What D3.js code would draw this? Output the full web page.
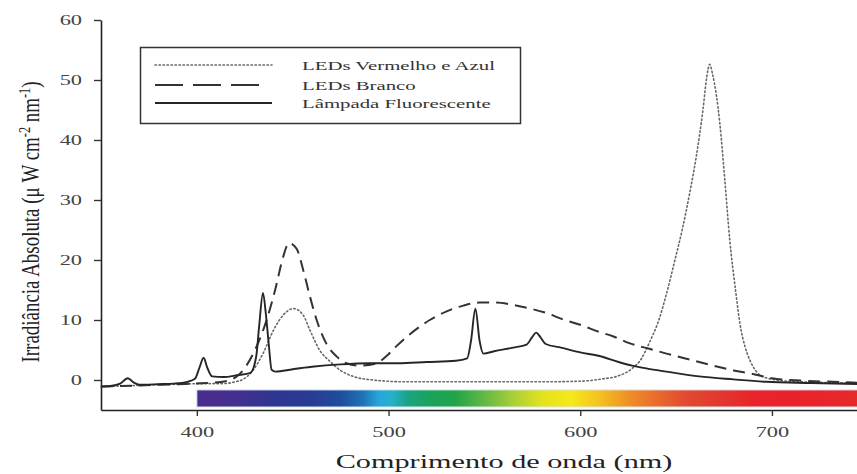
<!DOCTYPE html>
<html>
<head>
<meta charset="utf-8">
<script src="https://cdnjs.cloudflare.com/ajax/libs/d3/7.8.5/d3.min.js"></script>
<style>
  body { margin: 0; background: #fff; }
  svg { display: block; font-family: "Liberation Serif", "Times New Roman", serif; }
</style>
</head>
<body>
<div class="svgWrapper"></div>
<script>
// Data //
const ticksX = [400, 500, 600, 700];
const ticksY = [0, 10, 20, 30, 40, 50, 60];
const seriesNames = ["LEDs Vermelho e Azul", "LEDs Branco", "Lâmpada Fluorescente"];

// LEDs vermelho e azul (dotted)
const redBlueNm = [350, 370, 390, 405, 414, 420, 424, 429, 434.5, 440, 445, 450.5, 455.5, 459, 464, 469.5, 474.5, 481.5, 492, 509, 540, 580, 600, 612, 619, 627, 632, 636, 641, 645, 649, 653.5, 657, 660.5, 664, 666, 667.5, 669, 672.8, 675.5, 678, 681, 683.3, 686, 688.5, 695, 705, 714, 750];
const redBlueVal = [-1.1, -0.9, -0.7, -0.6, -0.6, -0.3, 0.1, 1.5, 4.4, 8.3, 10.8, 11.9, 10.8, 8.3, 5, 3.1, 1.7, 0.6, 0, -0.3, -0.3, -0.3, -0.2, 0.2, 0.6, 1.9, 3.6, 6.2, 10, 14.4, 19.5, 25.5, 31, 37.2, 45, 50.5, 52.6, 51, 42.8, 33, 23.3, 15, 9.4, 5.5, 3.3, 0.6, -0.1, -0.3, -0.5];

// LEDs branco (dashed)
const whiteNm = [350, 370, 390, 405, 415, 420, 425, 430, 436, 441, 445, 448, 452, 455.5, 459, 462.5, 467.5, 473, 478, 485, 493, 500, 504, 511, 521.5, 530, 539, 547.5, 556, 565, 574, 582, 591, 600, 610, 617, 626, 636, 645, 657, 668, 680, 690, 700, 715, 732, 750];
const whiteVal = [-1.1, -0.9, -0.7, -0.5, -0.2, 0.4, 2.0, 4.8, 9.6, 15.2, 20.5, 22.8, 21.9, 18.3, 13.9, 10, 6.1, 3.9, 2.8, 2.4, 2.7, 4.3, 5.6, 7.6, 10, 11.4, 12.4, 12.9, 12.9, 12.5, 11.9, 11.2, 10.1, 9.2, 8.0, 7.3, 6.1, 5.2, 4.4, 3.4, 2.5, 1.6, 1.0, 0.3, -0.1, -0.3, -0.5];

// Lampada fluorescente (solid)
const fluorNm = [350, 355, 360, 364, 367, 370, 380, 388, 395, 399, 401.5, 403.5, 405.5, 408, 414, 421, 428, 431, 432.5, 434.5, 436, 437.5, 439, 441, 450, 460, 475, 490, 505, 520, 535, 541, 543, 545.3, 547.5, 549.5, 555, 565, 572, 575, 577, 579.5, 582, 590, 600, 610, 620, 627, 635, 645, 662, 680, 697, 720, 750];
const fluorVal = [-1.1, -1.0, -0.6, 0.3, -0.4, -0.8, -0.7, -0.6, -0.3, 0.2, 2.2, 3.7, 2.0, 0.6, 0.5, 0.8, 1.2, 4.0, 9, 14.5, 11, 6, 1.7, 1.4, 1.8, 2.2, 2.6, 2.8, 2.8, 3.0, 3.2, 3.6, 6.5, 11.9, 6.5, 4.4, 4.8, 5.4, 5.9, 7.2, 7.9, 7.0, 6.0, 5.4, 4.6, 4.0, 3.0, 2.4, 1.9, 1.4, 0.6, 0.1, -0.3, -0.5, -0.7];

// visible spectrum bar
const spectrumNm = [400, 420, 440, 460, 475, 487, 495, 502, 510, 522, 535, 550, 565, 580, 595, 610, 625, 640, 655, 670, 690, 710, 750];
const spectrumColors = ["#4b2b8c", "#44308f", "#2f3590", "#283c93", "#1f4d9e", "#1f74b8", "#27a6d9", "#25b0c8", "#1aa383", "#1ba35a", "#22a449", "#63b845", "#a9cf38", "#e3e21f", "#f7e81b", "#f4c21f", "#ef9026", "#ea6a2c", "#e34a2f", "#e23a30", "#e8242a", "#ea2229", "#e62a2c"];
const spectrumRange = [400, 750];
const spectrumBand = [-1.65, -4.5];

// Styles //
const svgStyles = { w: 857, h: 474 };
const chartStyles = { left: 101, top: 20, bottom: 410, nmPx: 1.917 };
const stretch = 1.6;

const seriesStyles = [
  { stroke: "#666", width: 1.6, dash: "1.4,2.6", legendDash: "1.4,2.6" },
  { stroke: "#333", width: 2, dash: "12,7", legendDash: "28,10,28,10,28,200" },
  { stroke: "#262626", width: 1.9, dash: null, legendDash: null }
];

// Create graph
const svg = d3
  .select(".svgWrapper")
  .append("svg")
  .attr("width", svgStyles.w)
  .attr("height", svgStyles.h);

const xScale = d3
  .scaleLinear()
  .domain([350, 750])
  .range([chartStyles.left, chartStyles.left + 400 * chartStyles.nmPx]);

const yScale = d3
  .scaleLinear()
  .domain([-5, 60])
  .range([chartStyles.bottom, chartStyles.top]);

// spectrum gradient
const grad = svg
  .append("defs")
  .append("linearGradient")
  .attr("id", "spectrum")
  .attr("gradientUnits", "userSpaceOnUse")
  .attr("x1", xScale(spectrumRange[0]))
  .attr("x2", xScale(spectrumRange[1]))
  .attr("y1", 0)
  .attr("y2", 0);

grad
  .selectAll("stop")
  .data(d3.zip(spectrumNm, spectrumColors))
  .enter()
  .append("stop")
  .attr("offset", d => (d[0] - spectrumRange[0]) / (spectrumRange[1] - spectrumRange[0]))
  .attr("stop-color", d => d[1]);

svg
  .append("rect")
  .attr("x", xScale(spectrumRange[0]))
  .attr("y", yScale(spectrumBand[0]))
  .attr("width", xScale(spectrumRange[1]) - xScale(spectrumRange[0]))
  .attr("height", yScale(spectrumBand[1]) - yScale(spectrumBand[0]))
  .attr("fill", "url(#spectrum)")
  .attr("stroke", "#d6e8f0")
  .attr("stroke-width", 1);

// X axis
const xAxis = svg
  .append("g")
  .attr("transform", `translate(0, ${chartStyles.bottom})`)
  .call(d3.axisBottom(xScale).tickValues(ticksX).tickSize(6).tickSizeOuter(0));

// Y axis
const yAxis = svg
  .append("g")
  .attr("transform", `translate(${chartStyles.left}, 0)`)
  .call(d3.axisLeft(yScale).tickValues(ticksY).tickSize(7).tickSizeOuter(0));

[xAxis, yAxis].forEach(ax => {
  ax.attr("font-family", null).attr("font-size", null);
  ax.select(".domain").attr("stroke", "#222").attr("stroke-width", 1.6);
  ax.selectAll(".tick line").attr("stroke", "#333").attr("stroke-width", 1.4);
  ax.selectAll(".tick text")
    .attr("fill", "#444")
    .style("font-size", "14px");
});

xAxis
  .selectAll(".tick text")
  .attr("y", null)
  .attr("dy", null)
  .attr("transform", `translate(0, 27) scale(${stretch}, 1)`);

yAxis
  .selectAll(".tick text")
  .attr("x", null)
  .attr("dy", "0.34em")
  .attr("transform", `translate(-19, 0) scale(${stretch}, 1)`);

// data lines
const line = d3
  .line()
  .x(d => xScale(d[0]))
  .y(d => yScale(d[1]))
  .curve(d3.curveMonotoneX);

const series = [
  d3.zip(redBlueNm, redBlueVal),
  d3.zip(whiteNm, whiteVal),
  d3.zip(fluorNm, fluorVal)
];

svg
  .selectAll(".series")
  .data(series)
  .enter()
  .append("path")
  .attr("class", "series")
  .attr("d", line)
  .attr("fill", "none")
  .attr("stroke", (d, i) => seriesStyles[i].stroke)
  .attr("stroke-width", (d, i) => seriesStyles[i].width)
  .attr("stroke-dasharray", (d, i) => seriesStyles[i].dash)
  .attr("stroke-linecap", (d, i) => (i === 0 ? "round" : "butt"))
  .attr("stroke-linejoin", "round");

// define legend
const legend = svg.append("g").attr("class", "legend");

legend
  .append("rect")
  .attr("x", 140.5)
  .attr("y", 47.5)
  .attr("width", 380)
  .attr("height", 76)
  .attr("fill", "#fff")
  .attr("stroke", "#333")
  .attr("stroke-width", 1.5);

const legendItems = legend
  .selectAll(".legendItem")
  .data(seriesNames)
  .enter()
  .append("g")
  .attr("class", "legendItem")
  .attr("transform", (d, i) => `translate(0, ${[65, 85, 103][i]})`);

legendItems
  .append("line")
  .attr("x1", 155)
  .attr("x2", 272)
  .attr("stroke", (d, i) => seriesStyles[i].stroke)
  .attr("stroke-width", (d, i) => seriesStyles[i].width)
  .attr("stroke-dasharray", (d, i) => seriesStyles[i].legendDash)
  .attr("stroke-linecap", (d, i) => (i === 0 ? "round" : "butt"));

legendItems
  .append("text")
  .attr("transform", `translate(302, 4.5) scale(${stretch}, 1)`)
  .attr("fill", "#333")
  .style("font-size", "13px")
  .text(d => d);

// define X axis title
svg
  .append("text")
  .attr("transform", `translate(504, 468) scale(1.68, 1)`)
  .attr("text-anchor", "middle")
  .attr("fill", "#222")
  .style("font-size", "18px")
  .text("Comprimento de onda (nm)");

// define Y axis title
const yTitle = svg
  .append("text")
  .attr("transform", `translate(39, 222) scale(1.5, 1) rotate(-90)`)
  .attr("text-anchor", "middle")
  .attr("fill", "#222")
  .attr("textLength", 281)
  .attr("lengthAdjust", "spacingAndGlyphs")
  .style("font-size", "17px");

yTitle.append("tspan").text("Irradiância Absoluta (μ W cm");
yTitle.append("tspan").attr("dy", -6).style("font-size", "11px").text("-2");
yTitle.append("tspan").attr("dy", 6).text(" nm");
yTitle.append("tspan").attr("dy", -6).style("font-size", "11px").text("-1");
yTitle.append("tspan").attr("dy", 6).text(")");
</script>
</body>
</html>
